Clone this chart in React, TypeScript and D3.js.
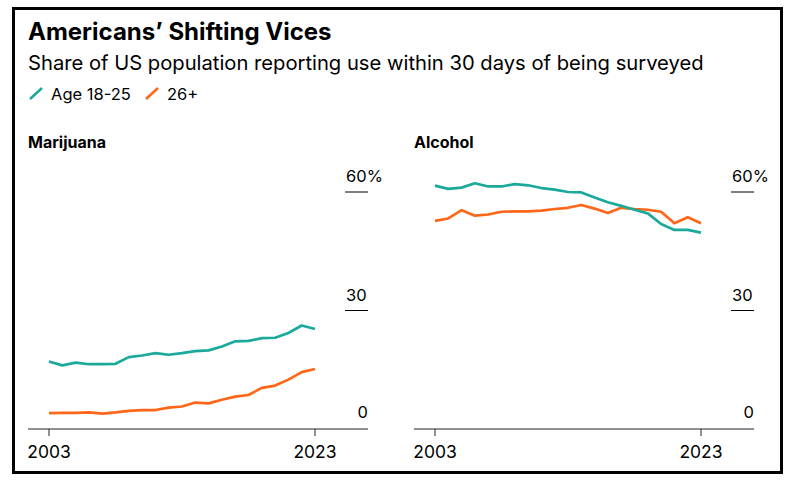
import React from "react";
import * as d3 from "d3";

const years = d3.range(2003, 2024);

const marijuanaYoung = [17.1, 16.1, 16.8, 16.4, 16.4, 16.5, 18.2, 18.6, 19.2, 18.8, 19.2, 19.7, 19.9, 20.9, 22.2, 22.3, 23.0, 23.1, 24.3, 26.2, 25.3];
const marijuanaOld = [4.0, 4.1, 4.1, 4.2, 3.9, 4.2, 4.6, 4.8, 4.8, 5.4, 5.7, 6.7, 6.5, 7.4, 8.2, 8.6, 10.4, 11.0, 12.5, 14.4, 15.2];
const alcoholYoung = [61.6, 60.8, 61.1, 62.2, 61.4, 61.4, 62.0, 61.7, 61.0, 60.6, 60.0, 59.9, 58.6, 57.4, 56.5, 55.5, 54.6, 51.9, 50.4, 50.4, 49.7];
const alcoholOld = [52.7, 53.3, 55.4, 54.0, 54.3, 55.0, 55.1, 55.1, 55.3, 55.7, 56.0, 56.7, 55.8, 54.7, 56.0, 55.7, 55.5, 55.0, 52.1, 53.6, 52.1];

const yTicks = [0, 30, 60];
const xTicks = [2003, 2023];

const TEAL = "#1aa99b";
const ORANGE = "#ff6617";
const FONT = "Inter, 'Liberation Sans', Arial, sans-serif";

interface PanelProps {
  title: string;
  left: number;
  young: number[];
  old: number[];
}

const Panel: React.FC<PanelProps> = ({ title, left, young, old }) => {
  const x = d3.scaleLinear().domain([2003, 2023]).range([left + 21, left + 287]);
  const y = d3.scaleLinear().domain([0, 60]).range([429, 192]);
  const line = d3
    .line<number>()
    .x((_, i) => x(years[i]))
    .y((d) => y(d));
  const axisRight = left + 340;

  return (
    <g>
      <text x={left} y={148} fontFamily={FONT} fontWeight="bold" fontSize={16} fill="#000">
        {title}
      </text>
      {yTicks.map((t) => (
        <g key={t}>
          {t > 0 && (
            <line x1={axisRight - 23} x2={axisRight} y1={y(t)} y2={y(t)} stroke="#000" strokeWidth={1} />
          )}
          {t > 0 ? (
            <text x={axisRight - 22} y={y(t) - 10} fontFamily={FONT} fontSize={16.5} fill="#000">
              {t === 60 ? "60%" : t}
            </text>
          ) : (
            <text x={axisRight} y={y(t) - 11} textAnchor="end" fontFamily={FONT} fontSize={16.5} fill="#000">
              {t}
            </text>
          )}
        </g>
      ))}
      <line x1={left} x2={axisRight} y1={y(0)} y2={y(0)} stroke="#222" strokeWidth={1} />
      {xTicks.map((t) => (
        <g key={t}>
          <line x1={x(t)} x2={x(t)} y1={y(0)} y2={y(0) + 7} stroke="#222" strokeWidth={1} />
          <text x={x(t)} y={458} textAnchor="middle" fontFamily={FONT} fontSize={17.5} fill="#000">
            {t}
          </text>
        </g>
      ))}
      <path d={line(old) ?? ""} fill="none" stroke={ORANGE} strokeWidth={2.7} strokeLinejoin="round" />
      <path d={line(young) ?? ""} fill="none" stroke={TEAL} strokeWidth={2.7} strokeLinejoin="round" />
    </g>
  );
};

const App: React.FC = () => {
  return (
    <svg width={800} height={488} style={{ position: "absolute", left: 0, top: 0 }}>
      <rect x={0} y={0} width={800} height={488} fill="#fff" />
      <rect x={13.5} y={8.5} width={768} height={464} fill="none" stroke="#000" strokeWidth={3} />
      <text x={28} y={40} fontFamily={FONT} fontWeight="bold" fontSize={24} fill="#000">
        Americans’ Shifting Vices
      </text>
      <text x={28} y={70} fontFamily={FONT} fontSize={20.2} fill="#000">
        Share of US population reporting use within 30 days of being surveyed
      </text>
      <line x1={30} y1={99} x2={42} y2={88} stroke={TEAL} strokeWidth={2.5} />
      <text x={51} y={100} fontFamily={FONT} fontSize={16.5} fill="#000">
        Age 18-25
      </text>
      <line x1={146} y1={99} x2={158} y2={88} stroke={ORANGE} strokeWidth={2.5} />
      <text x={167} y={100} fontFamily={FONT} fontSize={16.5} fill="#000">
        26+
      </text>
      <Panel title="Marijuana" left={28} young={marijuanaYoung} old={marijuanaOld} />
      <Panel title="Alcohol" left={414} young={alcoholYoung} old={alcoholOld} />
    </svg>
  );
};

export default App;
